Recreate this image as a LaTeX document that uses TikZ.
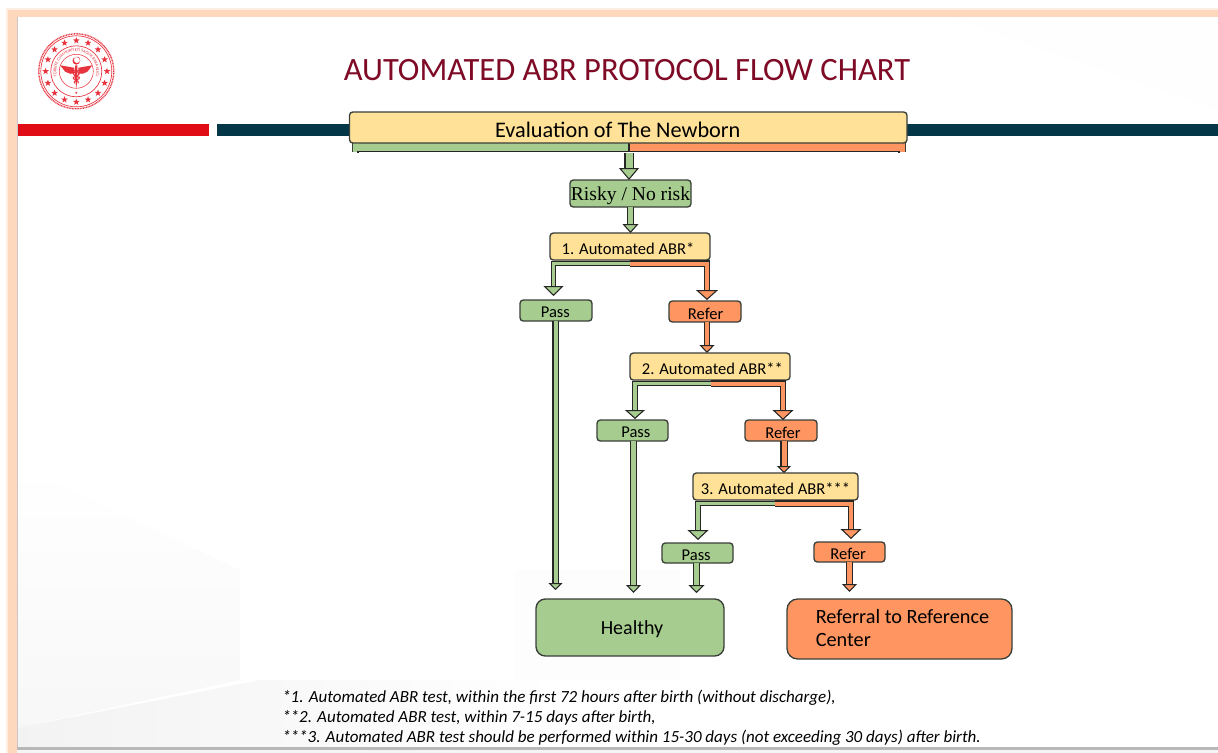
\documentclass[tikz,border=0pt]{standalone}
\usepackage{fontspec}
\setmainfont{Carlito}
\newfontfamily\serifrisk{Liberation Serif}
\usetikzlibrary{arrows.meta,shapes.geometric,decorations.text}
\definecolor{agreen}{HTML}{A6CD8F}
\definecolor{aorange}{HTML}{FF9661}
\definecolor{ayellow}{HTML}{FFE297}
\definecolor{aedge}{HTML}{3A3F3A}
\definecolor{ateal}{HTML}{033748}
\definecolor{ared}{HTML}{E10D16}
\definecolor{atitle}{HTML}{7F0A26}
\definecolor{apeach}{HTML}{FDD8BC}
\definecolor{alogo}{HTML}{E8333F}
\tikzset{
  boxbase/.style={draw=aedge,line width=1pt,rounded corners=2.5pt,inner sep=0pt,outer sep=0pt,text=black,align=center},
  ybox/.style={boxbase,fill=ayellow,font=\fontsize{12.4}{14}\selectfont},
  gbox/.style={boxbase,fill=agreen,font=\fontsize{12.4}{14}\selectfont},
  obox/.style={boxbase,fill=aorange,font=\fontsize{12.4}{14}\selectfont},
  gflow/.style={double=agreen,double distance=#1*0.75pt,draw=black!85,line width=.8pt},
  oflow/.style={double=aorange,double distance=#1*0.75pt,draw=black!85,line width=.8pt},
  gtip/.style n args={2}{-{Triangle[length=#1*0.75pt,width=#2*0.75pt,fill=agreen,line width=.8pt]}},
  otip/.style n args={2}{-{Triangle[length=#1*0.75pt,width=#2*0.75pt,fill=aorange,line width=.8pt]}},
  note/.style={anchor=base west,inner sep=0pt,font=\fontsize{12.75}{15}\selectfont\itshape,text=black},
  logoline/.style={draw=alogo,fill=none},
  logostar/.style={star,star points=5,star point ratio=2.4,fill=alogo,inner sep=0pt,minimum size=5.2pt},
}
\newcommand\bx[7]{\node[#2,minimum width={(#5-#3)*0.75pt},minimum height={(#6-#4)*0.75pt}] (#1) at ({(#3+#5)/2},{(#4+#6)/2}) {\raisebox{-1.5pt}[\height][\depth]{#7}};}
\begin{document}
\begin{tikzpicture}[x=0.75pt,y=-0.75pt]
\useasboundingbox (0,0) rectangle (1218,753);
% slide frame
\fill[white] (0,0) rectangle (1218,753);
\fill[apeach!45] (6,8) rectangle (1218,753);
\fill[apeach] (8,10) rectangle (1218,753);
\fill[white] (17,17) rectangle (1218,747);
\fill[white!96!black] (17,750) rectangle (1218,753);
% faint background
\shade[top color=white,bottom color=black!3] (17,465) -- (240,570) -- (240,680) -- (17,728) -- cycle;
\shade[left color=black!5,right color=white] (17,728) -- (260,680) -- (560,680) -- (560,747) -- (17,747) -- cycle;
\fill[black!0.7] (515,570) rectangle (680,680);
\fill[black!0.5] (950,17) -- (1218,17) -- (1218,110) -- cycle;
\fill[black!22] (16.5,17) rectangle (17.5,747);
\fill[black!28] (17,747) rectangle (1218,750);
% bars
\fill[ared] (18,123.5) rectangle (209,136);
\fill[ateal] (217,123.5) rectangle (1218,136);
% logo
\begin{scope}[shift={(76.3,71.3)}]
  \draw[logoline,line width=1pt,dash pattern=on .7pt off .5pt] (0,0) circle (37.5);
  \draw[logoline,line width=.5pt] (0,0) circle (35.5);
  \draw[logoline,line width=.5pt] (0,0) circle (25.5);
  \draw[logoline,line width=.4pt] (0,0) circle (17);
  \foreach \i in {0,...,15}{\node[logostar] (logostar\i) at ({90+\i*22.5}:30.7) {};}
  \path[decorate,decoration={text along path,text align=center,
     text={|\fontsize{3.2}{4}\selectfont\color{alogo}|TÜRKİYE CUMHURİYETİ SAĞLIK BAKANLIĞI}}]
     (-13.6,14.6) arc[start angle=133,end angle=407,radius=20];
  % crescent
  \fill[alogo,even odd rule] (0,-10.5) circle (3.8) (0.7,-11.4) circle (3.2);
  % wings
  \fill[alogo] (-2,-3.5) -- (-16,-6) -- (-13,-2) -- (-11,0.5) -- (-6,2.5) -- (-2,2) -- cycle;
  \fill[alogo] (2,-3.5) -- (16,-6) -- (13,-2) -- (11,0.5) -- (6,2.5) -- (2,2) -- cycle;
  % staff
  \fill[alogo] (-1.1,-6) -- (1.1,-6) -- (1.1,8) -- (0,17) -- (-1.1,8) -- cycle;
  \draw[alogo,line width=.8pt] (-3,-1) .. controls (5,1) and (5,4) .. (-3,6) .. controls (-5,8) and (4,9) .. (2,12);
  \draw[alogo,line width=.8pt] (3,-1) .. controls (-5,1) and (-5,4) .. (3,6) .. controls (5,8) and (-4,9) .. (-2,12);
  \node[logostar,minimum size=2pt] (logodot) at (0,21.5) {};
\end{scope}
% title
\node[font=\fontsize{24.4}{28}\selectfont,text=atitle,inner sep=0pt] (title) at (627,70) {AUTOMATED ABR PROTOCOL FLOW CHART};
% bands under the evaluation box
\fill[agreen] (352,143) rectangle (629,152);
\fill[aorange] (629,143) rectangle (905,152);
\draw[black!85,line width=.8pt] (358,152.5) -- (358,151.5) -- (899,151.5) -- (899,152.5);
\draw[black!85,line width=.8pt] (629,143) -- (629,152);
\draw[aedge,line width=.6pt] (352,143) -- (352,152) (905,143) -- (905,152);
% boxes
\bx{eval}{ybox,font=\fontsize{16.7}{19}\selectfont}{349.5}{112}{907}{143}{\hspace*{-15.7pt}Evaluation of The Newborn}
\bx{risk}{gbox,font=\fontsize{14.7}{17}\serifrisk\selectfont}{570}{180}{691}{207}{Risky / No risk}
\bx{abr1}{ybox}{550}{233}{710}{260}{\hspace*{-3pt}1. Automated ABR*}
\bx{pass1}{gbox}{520}{300}{592}{321}{\hspace*{-1pt}Pass}
\bx{ref1}{obox}{669}{301}{741}{322}{\hspace*{1pt}Refer}
\bx{abr2}{ybox}{630}{353}{790}{380}{\hspace*{3.5pt}2. Automated ABR**}
\bx{pass2}{gbox}{597}{420}{668}{441}{\hspace*{5pt}Pass}
\bx{ref2}{obox}{745}{420}{817}{441}{\hspace*{3pt}Refer}
\bx{abr3}{ybox}{693}{473}{858}{500}{3. Automated ABR***}
\bx{pass3}{gbox}{662}{543}{733}{563}{\hspace*{-2pt}Pass}
\bx{ref3}{obox}{814}{542}{885}{562}{\hspace*{-2pt}Refer}
\bx{healthy}{gbox,rounded corners=7pt,font=\fontsize{15}{18}\selectfont}{536}{599}{724}{656}{\hspace*{3pt}Healthy}
\bx{center}{obox,rounded corners=8pt}{787}{599}{1012}{659}{}
\node[anchor=base west,inner sep=0pt,font=\fontsize{15.2}{18}\selectfont] (centertxt1) at (815.5,623) {Referral to Reference};
\node[anchor=base west,inner sep=0pt,font=\fontsize{15.2}{18}\selectfont] (centertxt2) at (815.5,646) {Center};
% connectors
\coordinate (evalout) at (629,153);
\draw[gflow=7,gtip={12}{20}] (evalout) -- (629,180);
\draw[gflow=5,gtip={9}{16}] (risk.south) ++(0,0) -- (risk.south |- abr1.north);
% abr1 branches
\coordinate (b1) at (630,263.5);
\draw[gflow=3.5,gtip={10}{20}] (b1) -- (553.5,263.5) -- (553.5,296);
\draw[oflow=4,otip={10}{22}] (b1) -- (707,263.5) -- (707,300);
\draw[gflow=4,gtip={7}{14}] (555.5,321) -- (555.5,590);
\draw[oflow=4.5,otip={8}{15}] (707,322) -- (707,353);
% abr2 branches
\coordinate (b2) at (711,383.5);
\draw[gflow=3.5,gtip={9}{20}] (b2) -- (635,383.5) -- (635,419);
\draw[oflow=4,otip={10}{21}] (b2) -- (783,383.5) -- (783,420);
\draw[gflow=5,gtip={8}{15}] (633.5,441) -- (633.5,593);
\draw[oflow=5,otip={7}{14}] (784,441) -- (784,473);
% abr3 branches
\coordinate (b3) at (775,503.5);
\draw[gflow=3.5,gtip={10}{21}] (b3) -- (698,503.5) -- (698,540);
\draw[oflow=4,otip={10}{21}] (b3) -- (851,503.5) -- (851,539);
\draw[gflow=5.5,gtip={8}{16}] (696.5,563) -- (696.5,593);
\draw[oflow=5.5,otip={8}{15}] (849.5,562) -- (849.5,592);
% footnotes
\node[note] (n1) at (282,702) {*1. Automated ABR test, within the first 72 hours after birth (without discharge),};
\node[note] (n2) at (282,722) {**2. Automated ABR test, within 7-15 days after birth,};
\node[note] (n3) at (282,742) {***3. Automated ABR test should be performed within 15-30 days (not exceeding 30 days) after birth.};
\end{tikzpicture}
\end{document}
